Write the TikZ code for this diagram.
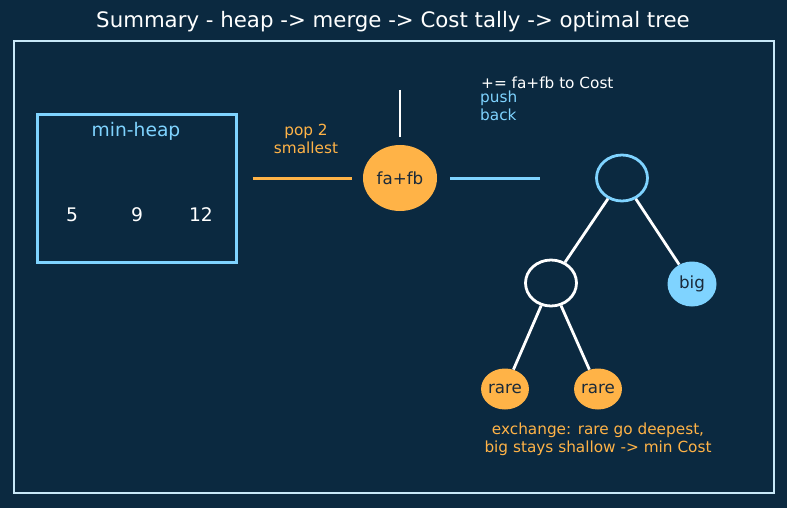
\documentclass[tikz,border=0pt]{standalone}
\usepackage{fontspec}
\setmainfont{DejaVu Sans}
\usetikzlibrary{positioning, shapes.geometric}

\definecolor{bgnavy}{HTML}{0B2940}
\definecolor{heapblue}{HTML}{7FD3FF}
\definecolor{popamber}{HTML}{FFB347}
\definecolor{framegrey}{HTML}{C8E8F8}
\definecolor{inkdark}{HTML}{1A2A3A}

\begin{document}
\begin{tikzpicture}[x=1pt, y=-1pt,
    every node/.style={inner sep=0pt, font=\fontsize{16.7}{20}\selectfont},
    smalltext/.style={font=\fontsize{15.3}{18}\selectfont},
    bigtext/.style={font=\fontsize{18.7}{22}\selectfont},
    link/.style={line width=2.8pt, white},
    leaf/.style={ellipse, minimum width=45pt, minimum height=41pt, fill=popamber, text=inkdark},
    blank/.style={ellipse, line width=2.8pt, minimum width=51pt, minimum height=46pt}]
    % Background and frame
    \fill[bgnavy] (0,0) rectangle (787,508);
    \useasboundingbox (0,0) rectangle (787,508);
    \draw[framegrey, line width=1.5pt] (14,41) rectangle (774,493);
    % Title
    \node[white, font=\fontsize{21.3}{25}\selectfont] (title) at (393,22) {Summary - heap -> merge -> Cost tally -> optimal tree};

    % Heap
    \node[draw=heapblue, line width=3pt, minimum width=199pt, minimum height=147pt] (heap) at (136.5,188.5) {};
    \node[heapblue, bigtext] (heaplabel) at (136,131) {min-heap};
    \foreach \v/\x in {5/72, 9/137, 12/201}
    {
        \node[white, bigtext] (h\v) at (\x,215) {\v};
    }

    % Merge step
    \node[ellipse, fill=popamber, text=inkdark, minimum width=74pt, minimum height=66pt] (merge) at (400,178) {fa+fb};
    \draw[popamber, line width=3pt, shorten <=15pt, shorten >=11pt] (heap.east |- merge.west) -- (merge.west);
    \node[popamber, smalltext, align=center] (poplabel) at (306,139) {pop 2\\smallest};
    \coordinate (costin) at (400,90);
    \draw[link, shorten >=8pt] (costin) -- (merge.north);
    \coordinate (pushend) at (540,178);
    \draw[heapblue, line width=3pt, shorten <=13pt] (merge.east) -- (pushend);
    \node[white, smalltext, anchor=base west] (costlabel) at (481,89) {+= fa+fb to Cost};
    \node[heapblue, smalltext, align=left, anchor=north west] (pushlabel) at (480,91) {push\\back};

    % Optimal tree
    \node[blank, draw=heapblue] (root) at (622,178) {};
    \node[blank, draw=white] (inner) at (551,283) {};
    \node[ellipse, fill=heapblue, text=inkdark, minimum width=49pt, minimum height=45pt] (big) at (692,284) {big};
    \node[leaf] (rareA) at (505,389) {rare};
    \node[leaf] (rareB) at (598,389) {rare};
    \foreach \a/\b in {root/inner, root/big, inner/rareA, inner/rareB}
    {
        \draw[link] (\a) -- (\b);
    }
    \node[popamber, smalltext, align=center] (caption) at (598,439) {exchange: rare go deepest,\\big stays shallow -> min Cost};
\end{tikzpicture}
\end{document}
